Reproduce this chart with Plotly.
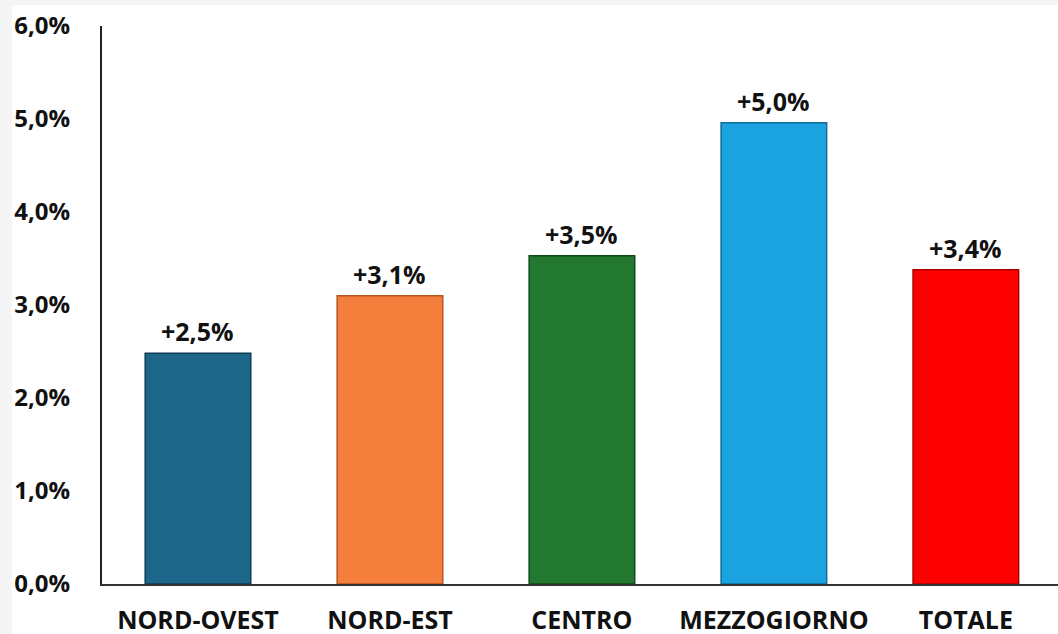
import plotly.graph_objects as go

categories = ["NORD-OVEST", "NORD-EST", "CENTRO", "MEZZOGIORNO", "TOTALE"]
values = [2.48, 3.10, 3.53, 4.96, 3.38]
labels = ["+2,5%", "+3,1%", "+3,5%", "+5,0%", "+3,4%"]
bar_colors = ["#1C6689", "#F47F3D", "#22782F", "#1BA3DF", "#FE0000"]
edge_colors = ["#0E3D55", "#B85420", "#114A1A", "#0F6D99", "#A80000"]
y_ticks = [0, 1, 2, 3, 4, 5, 6]
y_tick_labels = ["0,0%", "1,0%", "2,0%", "3,0%", "4,0%", "5,0%", "6,0%"]

font_family = "Open Sans, Noto Sans, DejaVu Sans, sans-serif"
W, H = 1058, 634
ML, MR, MT, MB = 102, 0, 26, 50
pw, ph = W - ML - MR, H - MT - MB

fig = go.Figure()
fig.add_trace(go.Bar(
    x=categories,
    y=values,
    width=0.55,
    marker=dict(color=bar_colors, line=dict(color=edge_colors, width=1.5)),
    hoverinfo="skip",
))

for c, v, t in zip(categories, values, labels):
    fig.add_annotation(x=c, y=v, text=t, showarrow=False, yanchor="bottom",
                       yshift=3, font=dict(size=25, color="#111111", family=font_family, weight="bold"))

# light grey outer frame (white panel inset)
fig.add_shape(type="rect", xref="paper", yref="paper", layer="below",
              x0=(12 - ML) / pw, x1=1.02, y0=-(MB + 5) / ph, y1=(H - MB - 5) / ph,
              fillcolor="white", line=dict(width=0))

fig.update_layout(
    width=W, height=H,
    margin=dict(l=ML, r=MR, t=MT, b=MB, autoexpand=False),
    paper_bgcolor="#F5F5F5", plot_bgcolor="white",
    showlegend=False,
    separators=",.",
)
fig.update_xaxes(
    range=[-0.5, 4.48], automargin=False,
    showline=True, linecolor="#333333", linewidth=1.5,
    ticks="", showgrid=False,
    tickfont=dict(size=25, color="#111111", family=font_family, weight="bold"),
    ticklabelstandoff=13,
)
fig.update_yaxes(
    range=[0, 6], automargin=False,
    tickvals=y_ticks, ticktext=y_tick_labels,
    showline=True, linecolor="#222222", linewidth=2,
    ticks="", showgrid=False, zeroline=False,
    tickfont=dict(size=24, color="#111111", family=font_family, weight="bold"),
    ticklabelstandoff=25,
)

fig.write_html("out.html", config={"displayModeBar": False, "staticPlot": True},
               post_script="document.body.style.margin='0';document.body.style.overflow='hidden';")
